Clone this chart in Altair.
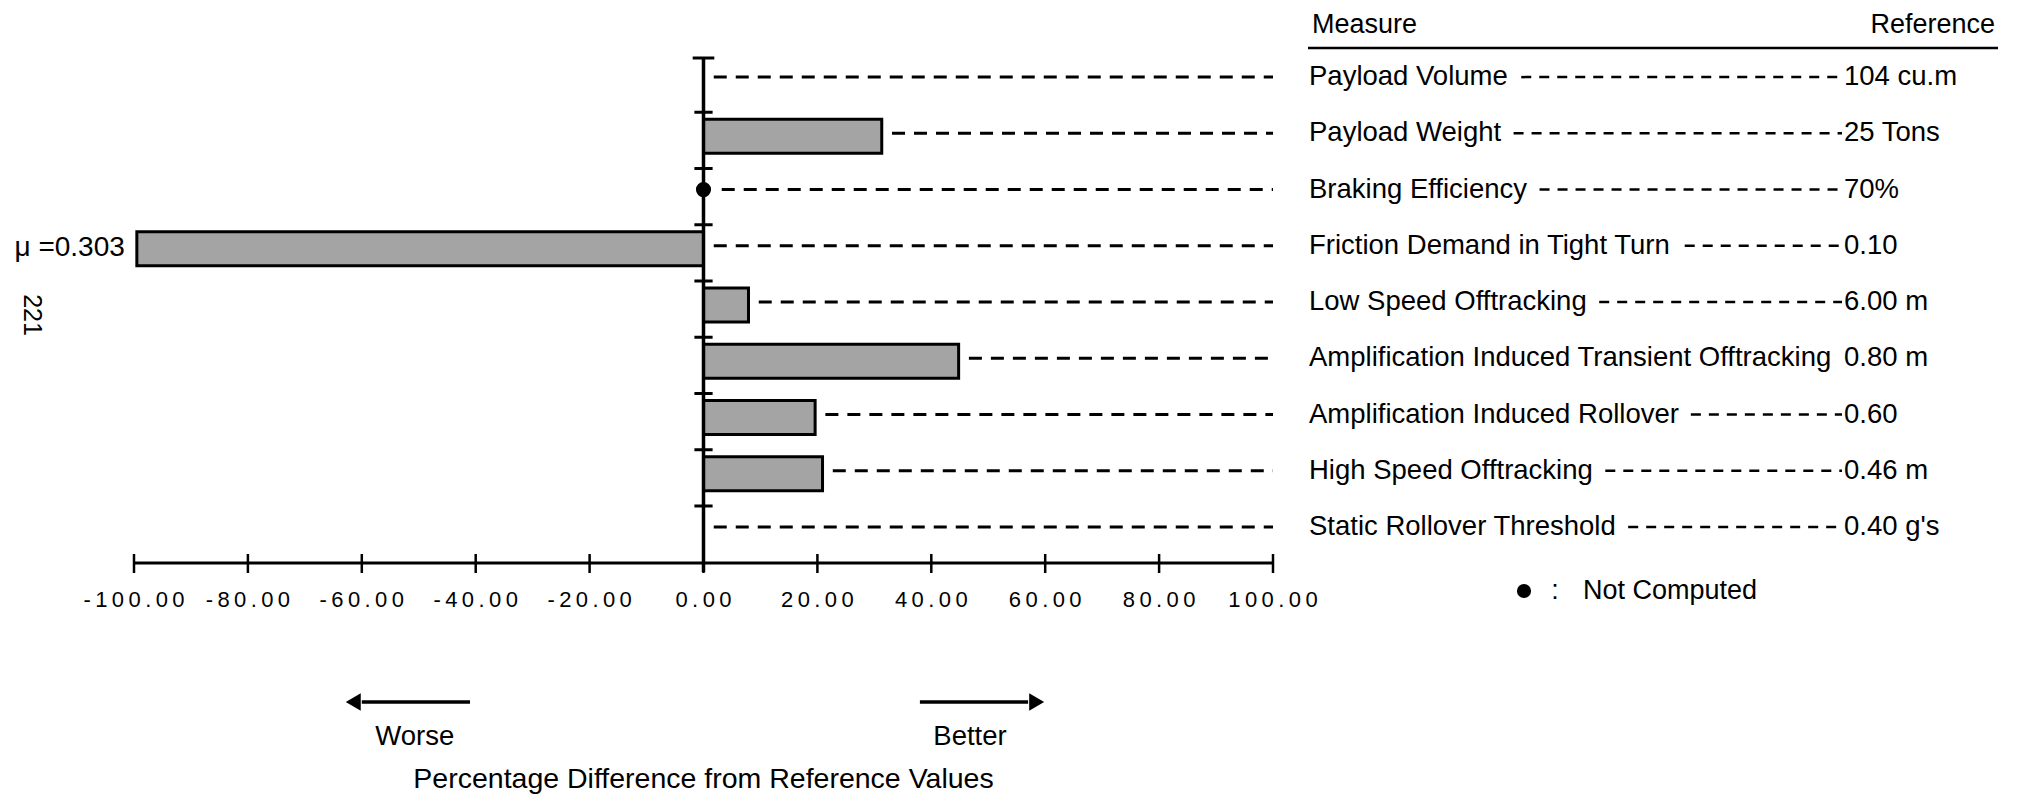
import altair as alt
import pandas as pd

# ---------------- data ----------------
measures = [
    "Payload Volume",
    "Payload Weight",
    "Braking Efficiency",
    "Friction Demand in Tight Turn",
    "Low Speed Offtracking",
    "Amplification Induced Transient Offtracking",
    "Amplification Induced Rollover",
    "High Speed Offtracking",
    "Static Rollover Threshold",
]
pct_diff = [None, 31.3, None, -99.5, 7.9, 44.8, 19.6, 20.9, None]
not_computed = [False, False, True, False, False, False, False, False, False]
reference_values = ["104 cu.m", "25 Tons", "70%", "0.10", "6.00 m", "0.80 m", "0.60", "0.46 m", "0.40 g's"]
bar_notes = ["", "", "", "\u03bc =0.303", "", "", "", "", ""]

tick_values = [-100, -80, -60, -40, -20, 0, 20, 40, 60, 80, 100]
tick_labels = ["-100.00", "-80.00", "-60.00", "-40.00", "-20.00", "0.00",
               "20.00", "40.00", "60.00", "80.00", "100.00"]

# ---------------- layout ----------------
W, H = 1139, 514
PAD_L, PAD_T, PAD_R, PAD_B = 126, 41, 735, 232
FONT = "Liberation Sans"
TABLE_FS = 27.5
LABEL_X = 1175
VALUE_X = 1710
DASH_END = 1708

# Helvetica/Arial advance widths (per 1000 em) for leader placement
_w = {" ": 278, "A": 667, "B": 667, "D": 722, "E": 667, "F": 611, "H": 722, "I": 278,
      "L": 556, "O": 778, "P": 667, "R": 722, "S": 667, "T": 611, "V": 667, "W": 944,
      "a": 556, "b": 556, "c": 500, "d": 556, "e": 556, "f": 278, "g": 556, "h": 556,
      "i": 222, "k": 500, "l": 222, "m": 833, "n": 556, "o": 556, "p": 556, "r": 333,
      "s": 500, "t": 278, "u": 556, "v": 500, "w": 722, "y": 500}


def text_width(s, size):
    return sum(_w.get(c, 556) for c in s) * size / 1000.0


rows = pd.DataFrame({
    "measure": measures,
    "pct": pct_diff,
    "nc": not_computed,
    "ref": reference_values,
    "note": bar_notes,
})

bars_df = rows[rows["pct"].notna()].copy()

lead = []
for m, p, nc in zip(measures, pct_diff, not_computed):
    start = max(p or 0, 0) + (3.2 if nc else 1.8)
    lead.append({"measure": m, "start": start, "end": 100})
lead_df = pd.DataFrame(lead)

tbl = []
for m in measures:
    s = LABEL_X + text_width(m, TABLE_FS) + 12
    if DASH_END - s > 40:
        tbl.append({"measure": m, "s": s, "e": DASH_END})
tbl_df = pd.DataFrame(tbl)

ticks_df = pd.DataFrame({
    "value": tick_values,
    "label": ["\u2009".join(list(t)) for t in tick_labels],
})

one = pd.DataFrame({"k": [0]})

xscale = alt.Scale(domain=[tick_values[0], tick_values[-1]], nice=False, zero=False)
yscale = alt.Scale(domain=measures, paddingInner=0, paddingOuter=0.069, align=0)
Y = alt.Y("measure:N", scale=yscale, axis=None)

# leader lines in plot
leaders = alt.Chart(lead_df).mark_rule(strokeDash=[13, 9], strokeWidth=3, color="black").encode(
    x=alt.X("start:Q", scale=xscale, axis=None), x2="end:Q", y=Y)

bars = alt.Chart(bars_df).mark_bar(size=34, color="#a4a4a4", stroke="black",
                                    strokeWidth=3, yOffset=3).encode(
    x=alt.X("pct:Q", scale=xscale, axis=None),
    y=Y,
)

# x axis line drawn across the scale's domain
x_axis_line = alt.Chart(one).mark_rule(strokeWidth=3, color="black").encode(
    x=alt.XDatum(tick_values[0], scale=xscale, axis=None),
    x2=alt.X2Datum(tick_values[-1]), y=alt.value(H))

zero_line = alt.Chart(one).mark_rule(strokeWidth=3.5, color="black").encode(
    x=alt.XDatum(0, scale=xscale, axis=None), y=alt.value(9), y2=alt.value(H + 9))
top_cap = alt.Chart(one).mark_rule(strokeWidth=3, color="black").encode(
    x=alt.XDatum(-1.9, axis=None), x2=alt.X2Datum(1.9), y=alt.value(9))
row_ticks = alt.Chart(rows.iloc[1:]).mark_rule(strokeWidth=3, color="black", yOffset=7).encode(
    x=alt.XDatum(-1.6, axis=None), x2=alt.X2Datum(1.6),
    y=alt.Y("measure:N", scale=yscale, axis=None, bandPosition=0))

dots = alt.Chart(rows[rows["nc"]]).mark_point(filled=True, size=230, color="black", opacity=1).encode(
    x=alt.XDatum(0, axis=None), y=Y)

notes = alt.Chart(rows[rows["note"] != ""]).mark_text(
    align="right", baseline="middle", dx=-12, dy=2, fontSize=28, font=FONT, color="black").encode(
    x=alt.X("pct:Q", axis=None), y=Y, text="note:N")

x_ticks = alt.Chart(ticks_df).mark_rule(strokeWidth=2.5, color="black").encode(
    x=alt.X("value:Q", scale=xscale, axis=None), y=alt.value(H - 9), y2=alt.value(H + 10))
x_labels = alt.Chart(ticks_df).mark_text(
    fontSize=22, font=FONT, baseline="middle", align="center", color="black").encode(
    x=alt.X("value:Q", scale=xscale, axis=None), y=alt.value(H + 37), text="label:N")

# bottom annotations
arrow_lines = alt.Chart(pd.DataFrame({"a": [-41, 38], "b": [-60, 57]})).mark_rule(
    strokeWidth=3.5, color="black").encode(
    x=alt.X("a:Q", scale=xscale, axis=None), x2="b:Q", y=alt.value(653))
arrow_left = alt.Chart(one).mark_point(shape="triangle-left", filled=True, size=300,
                                       color="black", opacity=1).encode(
    x=alt.XDatum(-61.5, axis=None), y=alt.value(653))
arrow_right = alt.Chart(one).mark_point(shape="triangle-right", filled=True, size=300,
                                        color="black", opacity=1).encode(
    x=alt.XDatum(58.5, axis=None), y=alt.value(653))
dir_df = pd.DataFrame({"pos": [-50.7, 46.8], "txt": ["Worse", "Better"]})
dir_text = alt.Chart(dir_df).mark_text(fontSize=27.5, font=FONT, baseline="middle",
                                       color="black").encode(
    x=alt.X("pos:Q", scale=xscale, axis=None), y=alt.value(688), text="txt:N")
x_title = alt.Chart(one).mark_text(fontSize=28.5, font=FONT, baseline="middle",
                                   color="black", text="Percentage Difference from Reference Values").encode(
    x=alt.XDatum(0, axis=None), y=alt.value(730))

side_221 = alt.Chart(one).mark_text(fontSize=25, font=FONT, angle=90, baseline="middle",
                                    color="black", text="221").encode(
    x=alt.value(-102), y=alt.value(266))

# right table
hdr_measure = alt.Chart(one).mark_text(fontSize=27, font=FONT, align="left", baseline="middle",
                                       color="black", text="Measure").encode(
    x=alt.value(1178), y=alt.value(-24))
hdr_ref = alt.Chart(one).mark_text(fontSize=27, font=FONT, align="right", baseline="middle",
                                   color="black", text="Reference").encode(
    x=alt.value(1861), y=alt.value(-24))
hdr_line = alt.Chart(one).mark_rule(strokeWidth=2.5, color="black").encode(
    x=alt.value(1174), x2=alt.value(1864), y=alt.value(-1))

tbl_labels = alt.Chart(rows).mark_text(fontSize=TABLE_FS, font=FONT, align="left",
                                       baseline="middle", color="black").encode(
    x=alt.value(LABEL_X), y=Y, text="measure:N")
tbl_values = alt.Chart(rows).mark_text(fontSize=TABLE_FS, font=FONT, align="left",
                                       baseline="middle", color="black").encode(
    x=alt.value(VALUE_X), y=Y, text="ref:N")
tbl_leaders = alt.Chart(tbl_df).mark_rule(strokeDash=[10, 8], strokeWidth=2.5, color="black").encode(
    x=alt.X("s:Q", scale=None, axis=None), x2="e:Q", y=Y)

nc_dot = alt.Chart(one).mark_point(filled=True, size=200, color="black", opacity=1).encode(
    x=alt.value(1390), y=alt.value(542))
nc_colon = alt.Chart(one).mark_text(fontSize=27, font=FONT, align="center", baseline="middle",
                                    color="black", text=":").encode(
    x=alt.value(1421), y=alt.value(542))
nc_text = alt.Chart(one).mark_text(fontSize=27, font=FONT, align="left", baseline="middle",
                                   color="black", text="Not Computed").encode(
    x=alt.value(1449), y=alt.value(542))

chart = alt.layer(
    leaders, bars, x_axis_line, zero_line, top_cap, row_ticks, dots, notes, x_ticks, x_labels,
    arrow_lines, arrow_left, arrow_right, dir_text, x_title, side_221,
    hdr_measure, hdr_ref, hdr_line, tbl_labels, tbl_values, tbl_leaders,
    nc_dot, nc_colon, nc_text,
).properties(
    width=W, height=H,
    background="white",
    autosize=alt.AutoSizeParams(type="none"),
    padding={"left": PAD_L, "top": PAD_T, "right": PAD_R, "bottom": PAD_B},
).configure_view(strokeWidth=0, stroke="transparent")

chart.save("out.html", embed_options={"renderer": "svg", "actions": False})
